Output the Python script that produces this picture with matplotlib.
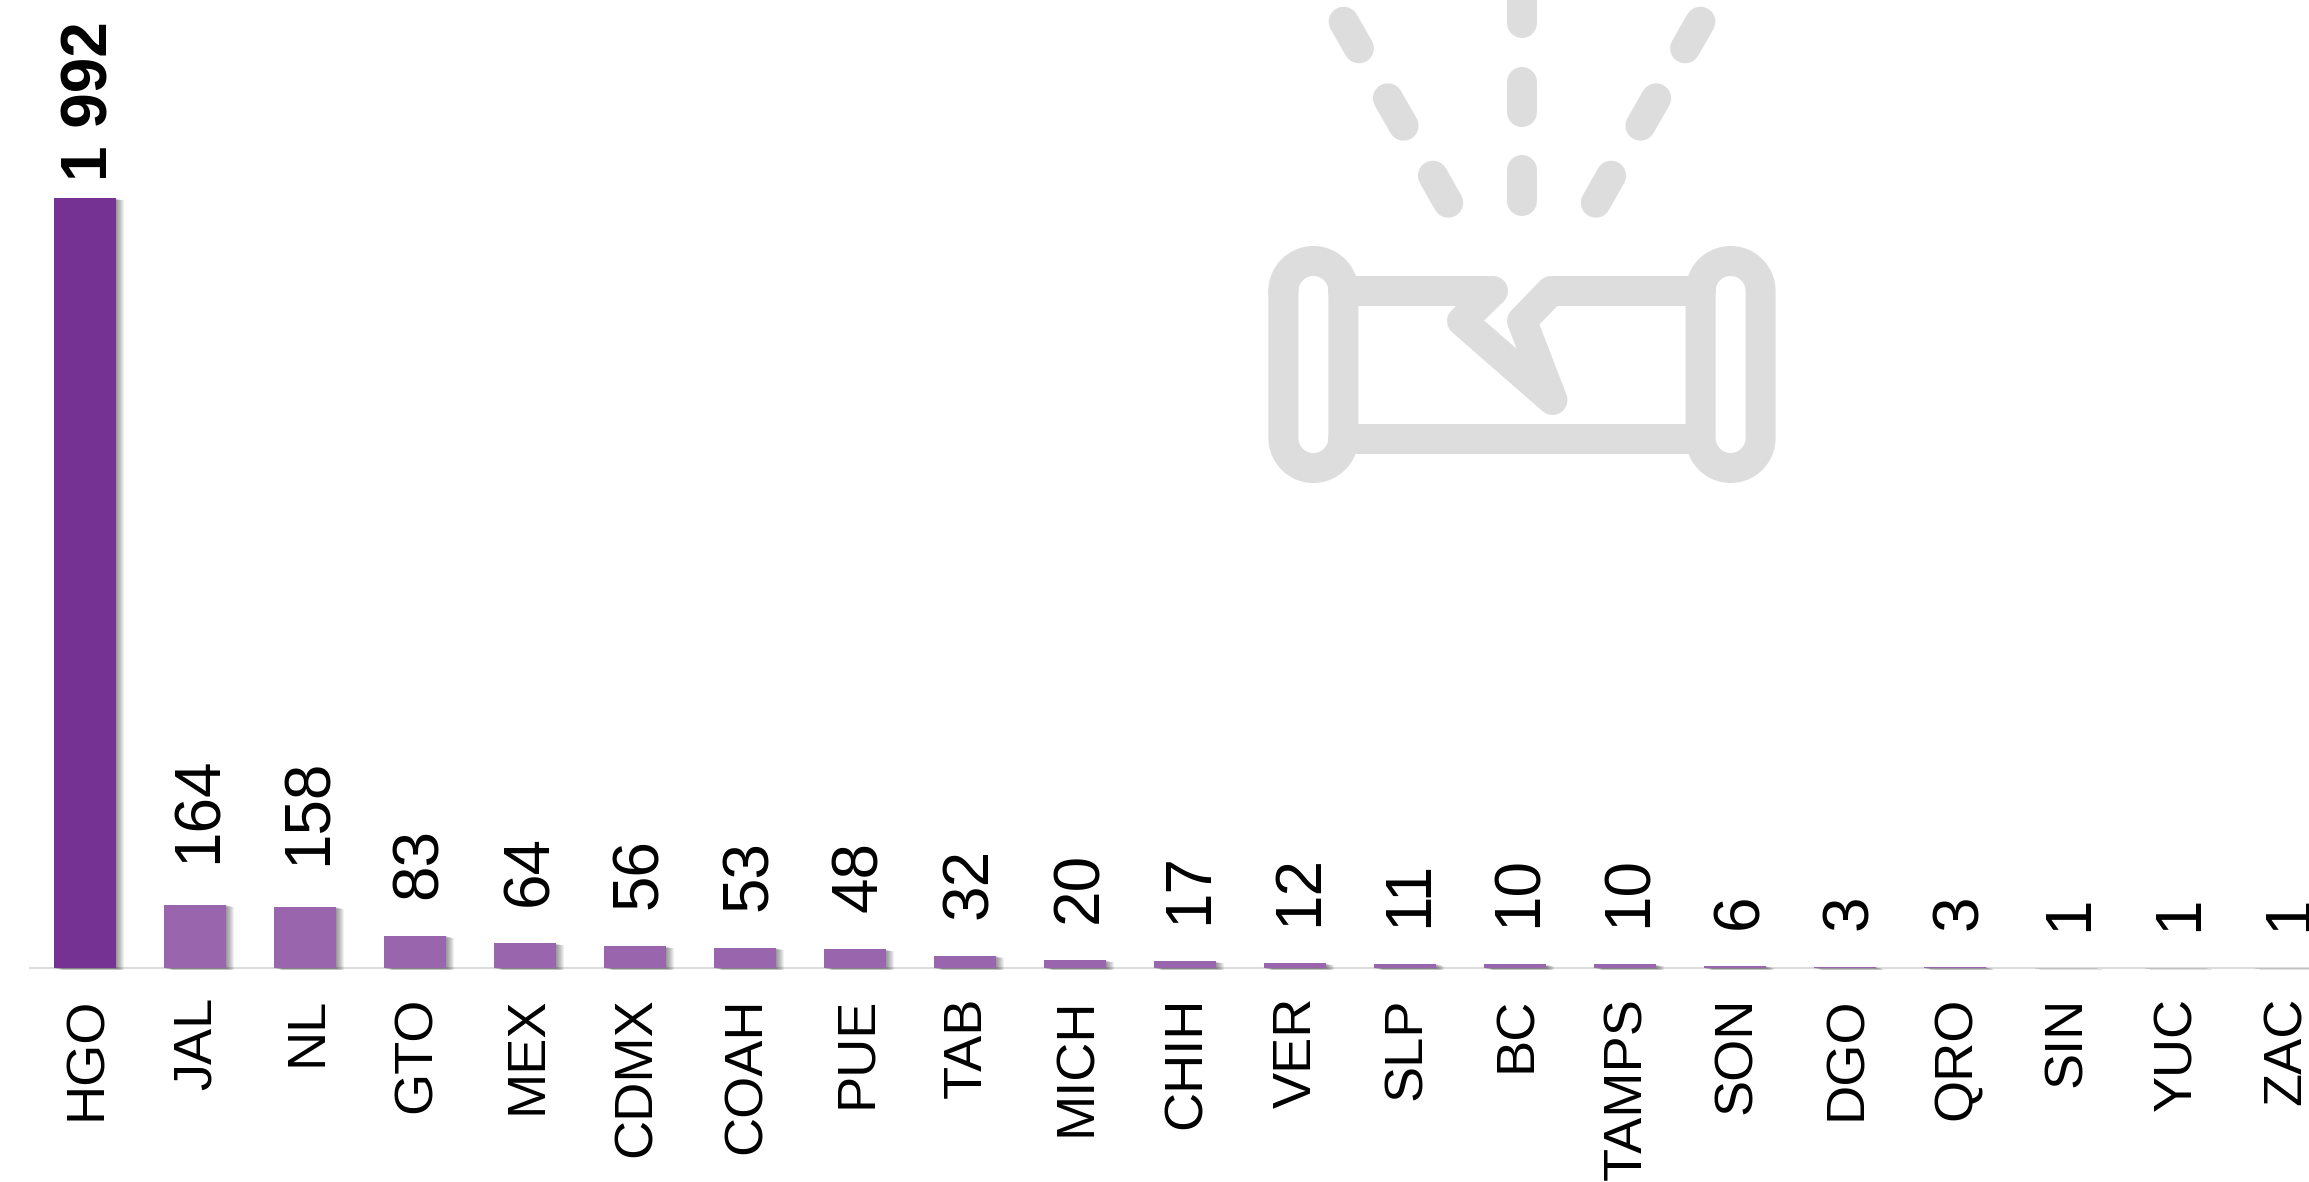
import numpy as np
import matplotlib
matplotlib.use("Agg")
import matplotlib.pyplot as plt
import matplotlib.patheffects as pe
from matplotlib.transforms import ScaledTranslation

states = ["HGO", "JAL", "NL", "GTO", "MEX", "CDMX", "COAH", "PUE", "TAB", "MICH", "CHIH",
          "VER", "SLP", "BC", "TAMPS", "SON", "DGO", "QRO", "SIN", "YUC", "ZAC"]
values = [1992, 164, 158, 83, 64, 56, 53, 48, 32, 20, 17, 12, 11, 10, 10, 6, 3, 3, 1, 1, 1]

W, H, DPI = 2309, 1182, 100
plt.rcParams["font.family"] = ["Liberation Sans", "DejaVu Sans"]
fig = plt.figure(figsize=(W / DPI, H / DPI), dpi=DPI, facecolor="white")

BASE_Y = 968
PX_PER_UNIT = 0.3865
ax = fig.add_axes([30 / W, (H - BASE_Y) / H, 2310 / W, BASE_Y / H])
ax.patch.set_alpha(0)
ax.set_xlim(-0.5, len(states) - 0.5)
ax.set_ylim(0, BASE_Y / PX_PER_UNIT)
for s in ["top", "left", "right"]:
    ax.spines[s].set_visible(False)
ax.spines["bottom"].set_color("#DCDCDC")
ax.spines["bottom"].set_linewidth(1.5)
ax.set_yticks([])

px = 72 / DPI
shadow = [pe.SimplePatchShadow(offset=(dx * px, -dy * px), shadow_rgbFace="#000000", alpha=0.06)
          for dx, dy in [(1, 0.5), (2, 0.5), (3, 1), (4, 1), (5, 1.5), (6, 1.5), (7, 2), (8, 2)]]
x = np.arange(len(states))
bars = ax.bar(x, values, width=0.555, color=["#763293"] + ["#9966AD"] * (len(states) - 1),
              linewidth=0, zorder=3, clip_on=False)
for b in bars:
    b.set_path_effects(shadow + [pe.Normal()])

ax.set_xticks(x)
ax.set_xticklabels(states)
ax.tick_params(axis="x", length=0, pad=0)
offset = ScaledTranslation(16 / DPI, -29 / DPI, fig.dpi_scale_trans)
for lab in ax.get_xticklabels():
    lab.set_rotation(90)
    lab.set_rotation_mode("anchor")
    lab.set_ha("right")
    lab.set_va("baseline")
    lab.set_fontsize(39)
    lab.set_color("black")
    lab.set_transform(lab.get_transform() + offset)

for i, v in enumerate(values):
    bold = v >= 1000
    gap = 17 if bold else (42 if v >= 100 else 37)
    ax.annotate(f"{v:,}".replace(",", " "), xy=(i, v), xytext=(22, gap),
                textcoords="offset pixels", rotation=90, rotation_mode="anchor",
                ha="left", va="baseline", fontsize=46, color="black",
                fontweight="bold" if bold else "normal", annotation_clip=False)

# decorative broken-pipe icon, in figure pixels
ic = fig.add_axes([0, 0, 1, 1], zorder=-1)
ic.set_xlim(0, W)
ic.set_ylim(H, 0)
ic.axis("off")
GREY = "#DDDDDD"
LW = 30 * px
style = dict(color=GREY, lw=LW, solid_capstyle="round", solid_joinstyle="round", clip_on=True)

cx = 1522
for seg in [((cx, -8), (cx, 23)), ((cx, 82), (cx, 112)), ((cx, 170), (cx, 201))]:
    ic.plot([seg[0][0], seg[1][0]], [seg[0][1], seg[1][1]], **style)
for (x0, y0), (x1, y1) in [((1343.6, 21.7), (1358.9, 48.3)),
                           ((1387.9, 98.3), (1403.6, 125.7)),
                           ((1432.9, 175.7), (1448.2, 202.7))]:
    ic.plot([x0, x1], [y0, y1], **style)
    ic.plot([2 * cx - x0, 2 * cx - x1], [y0, y1], **style)


def stadium(xc, r, y_top, y_bot):
    t = np.linspace(np.pi, 2 * np.pi, 40)
    xs = np.r_[xc + r * np.cos(t), xc - r * np.cos(t), xc - r]
    ys = np.r_[y_top + r * np.sin(t), y_bot - r * np.sin(t), y_top]
    return xs, ys


for xc in (1313.4, 2 * cx - 1313.4):
    ic.plot(*stadium(xc, 30, 291, 438), **style)

ic.plot([1343, 1493, 1462, 1552.5, 1522, 1551, 1700],
        [291, 291, 321, 400, 321, 291, 291], **style)
ic.plot([1343, 1700], [439, 439], **style)

fig.savefig("out.png", dpi=DPI, facecolor="white")
